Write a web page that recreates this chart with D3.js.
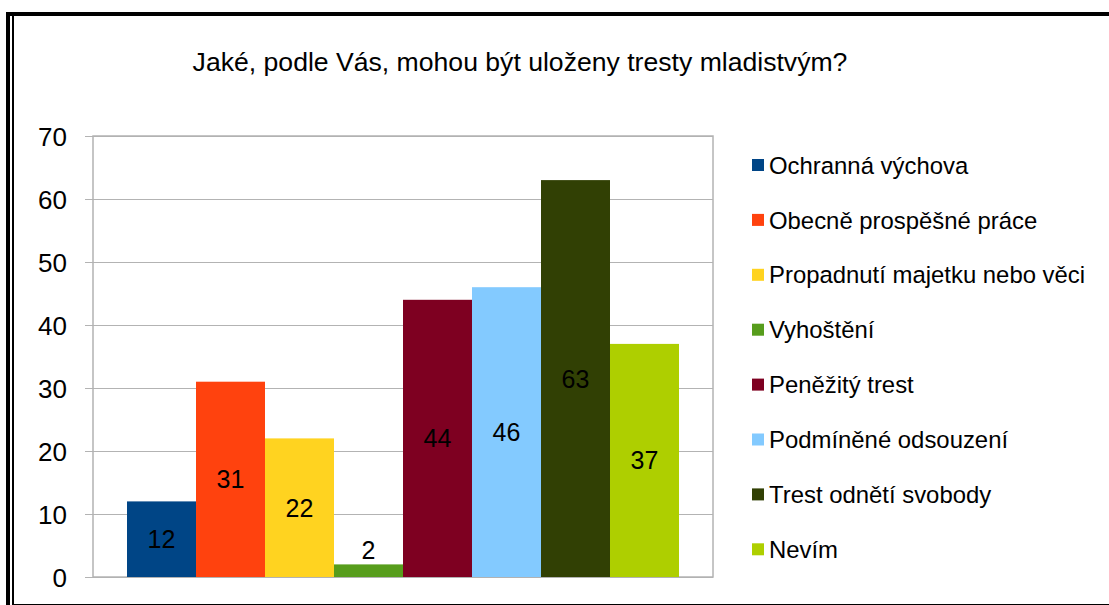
<!DOCTYPE html>
<html>
<head>
<meta charset="utf-8">
<script src="https://cdn.jsdelivr.net/npm/d3@7"></script>
<style>
  body { margin: 0; background: #ffffff; }
  svg text { font-family: "Liberation Sans", Arial, sans-serif; fill: #000000; }
</style>
</head>
<body>
<svg id="chart"></svg>
<script>
/* Data */
let chartTitle = "Jaké, podle Vás, mohou být uloženy tresty mladistvým?";
let seriesNames = [
    "Ochranná výchova",
    "Obecně prospěšné práce",
    "Propadnutí majetku nebo věci",
    "Vyhoštění",
    "Peněžitý trest",
    "Podmíněné odsouzení",
    "Trest odnětí svobody",
    "Nevím"
];
let seriesValues = [12, 31, 22, 2, 44, 46, 63, 37];
let seriesColors = ["#004586", "#ff420e", "#ffd320", "#579d1c", "#7e0021", "#83caff", "#314004", "#aecf00"];
let yTickValues = [0, 10, 20, 30, 40, 50, 60, 70];

let width = 1109;
let height = 605;

/* plot area edges */
let plot = { left: 93, right: 713, top: 136, bottom: 577 };

let svg = d3.select("svg#chart")
    .attr("width", width)
    .attr("height", height);

/* outer frame, like the pasted document border */
svg.append("rect").attr("x", 6).attr("y", 12).attr("width", 4).attr("height", height - 12).attr("fill", "#000");
svg.append("rect").attr("x", 12).attr("y", 12).attr("width", 2).attr("height", height - 12).attr("fill", "#000");
svg.append("rect").attr("x", 6).attr("y", 12).attr("width", width - 6).attr("height", 4).attr("fill", "#000");
svg.append("line").attr("x1", 12).attr("x2", width).attr("y1", 604.5).attr("y2", 604.5)
    .attr("stroke", "#000").attr("stroke-width", 1);

/* title */
svg.append("text")
    .attr("x", 520)
    .attr("y", 71)
    .style("text-anchor", "middle")
    .style("font-size", "26.6px")
    .text(chartTitle);

/* scales */
let yScale = d3.scaleLinear()
    .domain([0, 70])
    .range([plot.bottom, plot.top]);

// one group holding all eight series
let groupScale = d3.scaleBand()
    .domain(["all"])
    .range([plot.left, plot.right])
    .paddingInner(0)
    .paddingOuter(0.0616);

let xScale = d3.scaleBand()
    .domain(seriesNames)
    .range([groupScale("all"), groupScale("all") + groupScale.bandwidth()])
    .padding(0);

/* grid lines + y axis */
let yAxis = d3.axisLeft(yScale)
    .tickValues(yTickValues)
    .tickSize(plot.right - plot.left + 8)
    .tickPadding(18)
    .tickFormat(d3.format("d"));

let yAxisG = svg.append("g")
    .attr("transform", "translate(" + plot.right + ",0)")
    .call(yAxis);

yAxisG.select("path.domain").remove();
yAxisG.selectAll(".tick line").attr("stroke", "#b3b3b3").attr("stroke-width", 1);
yAxisG.selectAll(".tick text")
    .style("font-size", "26px")
    .attr("dy", "0.36em");

/* plot border */
svg.append("rect")
    .attr("x", plot.left)
    .attr("y", plot.top)
    .attr("width", plot.right - plot.left)
    .attr("height", plot.bottom - plot.top)
    .attr("fill", "none")
    .attr("stroke", "#b3b3b3")
    .attr("stroke-width", 1.5);

/* bars */
svg.append("g").selectAll("rect")
    .data(seriesValues)
    .join("rect")
    .attr("x", (d, i) => xScale(seriesNames[i]))
    .attr("y", d => yScale(d))
    .attr("width", xScale.bandwidth())
    .attr("height", d => yScale(0) - yScale(d))
    .attr("fill", (d, i) => seriesColors[i]);

/* value labels - inside the bar unless it is too short */
svg.append("g").selectAll("text")
    .data(seriesValues)
    .join("text")
    .attr("x", (d, i) => xScale(seriesNames[i]) + xScale.bandwidth() / 2)
    .attr("y", d => {
        let barHeight = yScale(0) - yScale(d);
        if (barHeight < 30) return yScale(d) - 14;
        return yScale(d / 2);
    })
    .attr("dy", "0.36em")
    .style("text-anchor", "middle")
    .style("font-size", "25px")
    .text(d => d);

/* legend */
let legendX = 752;
let legendTop = 165;
let legendStep = 54.9;

let legend = svg.append("g").attr("class", "legend");
seriesNames.forEach((name, i) => {
    let item = legend.append("g")
        .attr("transform", "translate(" + legendX + "," + (legendTop + i * legendStep) + ")");
    item.append("rect")
        .attr("x", 0)
        .attr("y", -6)
        .attr("width", 12)
        .attr("height", 12)
        .attr("fill", seriesColors[i]);
    item.append("text")
        .attr("x", 17)
        .attr("y", 0)
        .attr("dy", "0.36em")
        .style("font-size", "23.9px")
        .text(name);
});
</script>
</body>
</html>
